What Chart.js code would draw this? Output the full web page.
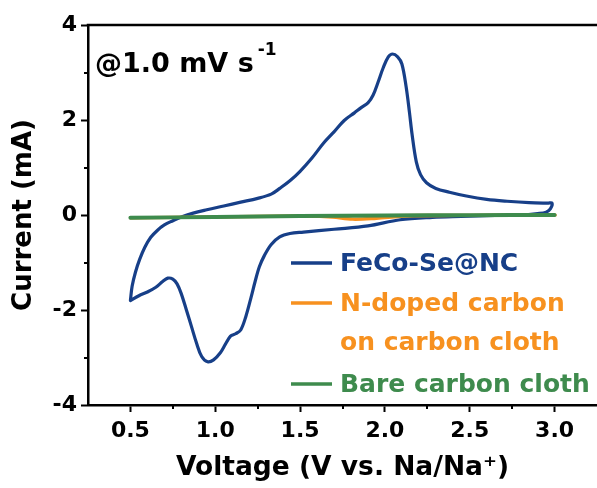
<!DOCTYPE html>
<html>
<head>
<meta charset="utf-8">
<script src="https://cdn.jsdelivr.net/npm/chart.js@4/dist/chart.umd.min.js"></script>
<style>
  html, body { margin: 0; padding: 0; background: #fff; overflow: hidden; }
  canvas { display: block; }
</style>
</head>
<body>
<canvas id="cv" width="597" height="488"></canvas>
<script>
const FONT = '"DejaVu Sans", "Liberation Sans", sans-serif';

// Series colours
const BLUE = '#173f88';
const ORANGE = '#f7911f';
const GREEN = '#3e8b4d';

// Axis ticks
const xMajorTicks = [0.5, 1.0, 1.5, 2.0, 2.5, 3.0];
const xMinorTicks = [0.75, 1.25, 1.75, 2.25, 2.75];
const yMajorTicks = [-4, -2, 0, 2, 4];
const yMinorTicks = [-3, -1, 1, 3];

// FeCo-Se@NC cyclic voltammogram, one full loop (V, mA)
const fecoV = [
  0.50, 0.51, 0.53, 0.555, 0.585, 0.62, 0.66, 0.70, 0.75, 0.80, 0.87, 0.95, 1.05, 1.15, 1.25,
  1.33, 1.38, 1.44, 1.50, 1.57, 1.64, 1.70, 1.76, 1.82, 1.86, 1.90, 1.93, 1.96, 1.99, 2.02,
  2.045, 2.075, 2.10, 2.125, 2.145, 2.16, 2.185, 2.21, 2.245, 2.30, 2.38, 2.48, 2.60, 2.72, 2.85,
  2.96, 2.985, 2.975, 2.95, 2.90,
  2.80, 2.65, 2.45, 2.28, 2.09, 1.90, 1.70, 1.52, 1.44, 1.38, 1.33, 1.29, 1.26, 1.235, 1.21,
  1.18, 1.15, 1.12, 1.09, 1.06, 1.03, 0.99, 0.955, 0.92, 0.89, 0.86, 0.83, 0.80, 0.775, 0.75,
  0.72, 0.69, 0.65, 0.60, 0.55, 0.50
];
const fecoI = [
  -1.80, -1.50, -1.20, -0.93, -0.68, -0.47, -0.32, -0.21, -0.12, -0.04, 0.04, 0.11, 0.19, 0.27, 0.35,
  0.44, 0.56, 0.72, 0.92, 1.20, 1.52, 1.75, 1.99, 2.15, 2.26, 2.36, 2.52, 2.80, 3.10, 3.33,
  3.39, 3.33, 3.18, 2.70, 2.15, 1.70, 1.12, 0.85, 0.68, 0.56, 0.48, 0.40, 0.33, 0.29, 0.26,
  0.25, 0.25, 0.13, 0.06, 0.03,
  0.00, -0.01, -0.03, -0.05, -0.10, -0.23, -0.30, -0.36, -0.39, -0.46, -0.62, -0.85, -1.09, -1.40, -1.75,
  -2.14, -2.42, -2.50, -2.55, -2.72, -2.90, -3.05, -3.09, -2.98, -2.70, -2.35, -2.00, -1.66, -1.45, -1.35,
  -1.33, -1.40, -1.52, -1.62, -1.70, -1.80
];

// N-doped carbon on carbon cloth (V, mA)
const ncV = [0.50, 1.00, 1.50, 2.00, 2.50, 3.00, 2.90, 2.50, 2.20, 2.09, 1.95, 1.81, 1.69, 1.55, 1.00, 0.50];
const ncI = [-0.06, -0.04, -0.02, -0.01, -0.005, 0.00, 0.00, -0.005, -0.02, -0.03, -0.07, -0.09, -0.045, -0.025, -0.04, -0.06];

// Bare carbon cloth (V, mA)
const ccV = [0.50, 1.00, 1.50, 2.00, 2.50, 3.00];
const ccI = [-0.06, -0.04, -0.02, -0.01, -0.005, 0.00];

const toPoints = (xs, ys) => xs.map((x, i) => ({ x, y: ys[i] }));

// Top frame line, minor ticks, scan-rate note and legend
const decorations = {
  id: 'decorations',
  afterDraw(chart) {
    const { ctx, chartArea: a, scales: { x, y } } = chart;
    ctx.save();
    ctx.strokeStyle = '#000';
    ctx.lineWidth = 2.5;
    ctx.beginPath();
    ctx.moveTo(a.left - 1.25, a.top);
    ctx.lineTo(a.right, a.top);
    ctx.stroke();

    ctx.lineWidth = 2;
    ctx.beginPath();
    xMinorTicks.forEach(v => {
      const px = Math.round(x.getPixelForValue(v));
      ctx.moveTo(px, a.bottom);
      ctx.lineTo(px, a.bottom + 4);
    });
    yMinorTicks.forEach(v => {
      const py = Math.round(y.getPixelForValue(v));
      ctx.moveTo(a.left, py);
      ctx.lineTo(a.left - 4, py);
    });
    ctx.stroke();

    // scan rate note
    ctx.fillStyle = '#000';
    ctx.textBaseline = 'alphabetic';
    ctx.textAlign = 'left';
    ctx.font = 'bold 27px ' + FONT;
    const note = '@1.0 mV s';
    const nx = a.left + 7, ny = a.top + 47;
    ctx.fillText(note, nx, ny);
    const w = ctx.measureText(note).width;
    ctx.font = 'bold 17px ' + FONT;
    ctx.fillText('-1', nx + w + 4, ny - 17);

    // legend
    const entries = [
      { color: BLUE, lines: ['FeCo-Se@NC'], y: 263 },
      { color: ORANGE, lines: ['N-doped carbon', 'on carbon cloth'], y: 303 },
      { color: GREEN, lines: ['Bare carbon cloth'], y: 384 }
    ];
    ctx.font = 'bold 25px ' + FONT;
    ctx.textBaseline = 'middle';
    entries.forEach(e => {
      ctx.strokeStyle = e.color;
      ctx.lineWidth = 3.5;
      ctx.beginPath();
      ctx.moveTo(291, e.y);
      ctx.lineTo(332, e.y);
      ctx.stroke();
      ctx.fillStyle = e.color;
      e.lines.forEach((t, i) => ctx.fillText(t, 340, e.y + 1 + i * 39));
    });
    ctx.restore();
  }
};

new Chart(document.getElementById('cv'), {
  type: 'scatter',
  data: {
    datasets: [
      { label: 'FeCo-Se@NC', data: toPoints(fecoV, fecoI), borderColor: BLUE, borderWidth: 3.2, order: 3 },
      { label: 'N-doped carbon on carbon cloth', data: toPoints(ncV, ncI), borderColor: ORANGE, borderWidth: 3.2, order: 2 },
      { label: 'Bare carbon cloth', data: toPoints(ccV, ccI), borderColor: GREEN, borderWidth: 4, order: 1 }
    ].map(d => Object.assign(d, { showLine: true, pointRadius: 0, tension: 0.35, fill: false, borderJoinStyle: 'round', borderCapStyle: 'round' }))
  },
  options: {
    responsive: false,
    animation: false,
    devicePixelRatio: 1,
    layout: { padding: { top: 25, right: 0, bottom: 0, left: 0 } },
    plugins: { legend: { display: false }, tooltip: { enabled: false } },
    scales: {
      x: {
        type: 'linear',
        min: 0.25,
        max: 3.25,
        afterFit: s => { s.height = 83; },
        afterBuildTicks: s => { s.ticks = xMajorTicks.map(v => ({ value: v })); },
        ticks: {
          color: '#000',
          padding: 6,
          font: { family: FONT, size: 22, weight: 'bold' },
          callback: v => v.toFixed(1)
        },
        grid: { drawOnChartArea: false, drawTicks: true, tickLength: 7, tickWidth: 2, tickColor: '#000' },
        border: { display: true, color: '#000', width: 2.5 },
        title: {
          display: true,
          text: 'Voltage (V vs. Na/Na\u207A)',
          color: '#000',
          font: { family: FONT, size: 26.5, weight: 'bold' },
          padding: { top: 0, bottom: 4 }
        }
      },
      y: {
        type: 'linear',
        min: -4,
        max: 4,
        afterFit: s => { s.width = 88; },
        afterBuildTicks: s => { s.ticks = yMajorTicks.map(v => ({ value: v })); },
        ticks: {
          color: '#000',
          padding: 4,
          font: { family: FONT, size: 22, weight: 'bold' },
          callback: v => String(v)
        },
        grid: { drawOnChartArea: false, drawTicks: true, tickLength: 7, tickWidth: 2, tickColor: '#000' },
        border: { display: true, color: '#000', width: 2.5 },
        title: {
          display: true,
          text: 'Current (mA)',
          color: '#000',
          font: { family: FONT, size: 26, weight: 'bold' },
          padding: { top: 9, bottom: 0 }
        }
      }
    }
  },
  plugins: [decorations]
});
</script>
</body>
</html>
